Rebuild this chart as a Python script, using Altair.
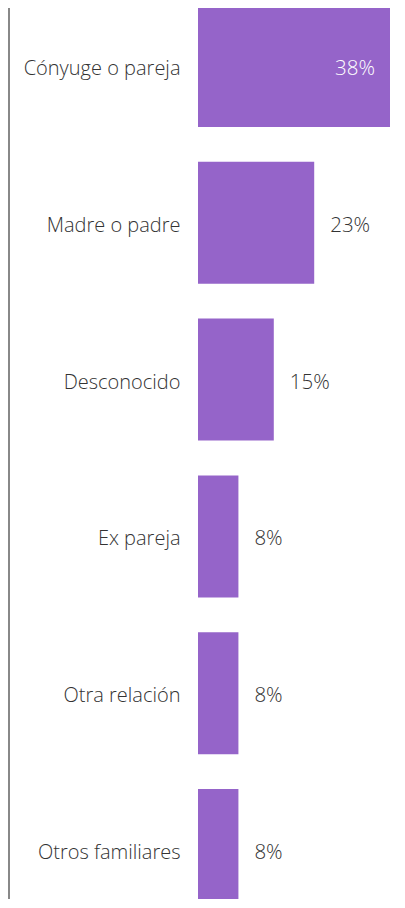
import altair as alt
import pandas as pd

categories = ["Cónyuge o pareja", "Madre o padre", "Desconocido", "Ex pareja", "Otra relación", "Otros familiares"]
values = [38, 23, 15, 8, 8, 8]
labels = ["38%", "23%", "15%", "8%", "8%", "8%"]

df = pd.DataFrame({"cat": categories, "val": values, "lab": labels})

FONT = "Open Sans"
y_enc = alt.Y("cat:N", sort=categories,
              scale=alt.Scale(range=[-3, 903], paddingInner=0.222, paddingOuter=0),
              axis=alt.Axis(title=None, domain=False, ticks=False, labelFontSize=20,
                            labelColor="#333333", labelPadding=18, labelFont=FONT,
                            labelFontWeight=300, labelOffset=3))
x_enc = alt.X("val:Q", scale=alt.Scale(domain=[0, 38], nice=False, zero=True), axis=None)

base = alt.Chart(df)
bars = base.mark_bar(color="#9564C9").encode(y=y_enc, x=x_enc)
inside = base.transform_filter("datum.val >= 30").mark_text(
    align="right", baseline="middle", dx=-15, dy=3, fontSize=20.5, font=FONT, fontWeight=300, color="white"
).encode(y=y_enc, x=x_enc, text="lab:N")
outside = base.transform_filter("datum.val < 30").mark_text(
    align="left", baseline="middle", dx=16, dy=3, fontSize=20.5, font=FONT, fontWeight=300, color="#333333"
).encode(y=y_enc, x=x_enc, text="lab:N")

rule_df = pd.DataFrame({"k": [0]})
rule = alt.Chart(rule_df).mark_rule(color="#888888", strokeWidth=2).encode(
    x=alt.value(-189), y=alt.value(0), y2=alt.value(892)
)

chart = alt.layer(bars, inside, outside, rule).properties(
    width=192, height=891,
    autosize=alt.AutoSizeParams(type="none"),
    padding={"left": 190, "top": 0, "right": 7, "bottom": 0},
).configure_view(stroke=None)

chart.save("out.html", embed_options={"renderer": "svg", "actions": False})
